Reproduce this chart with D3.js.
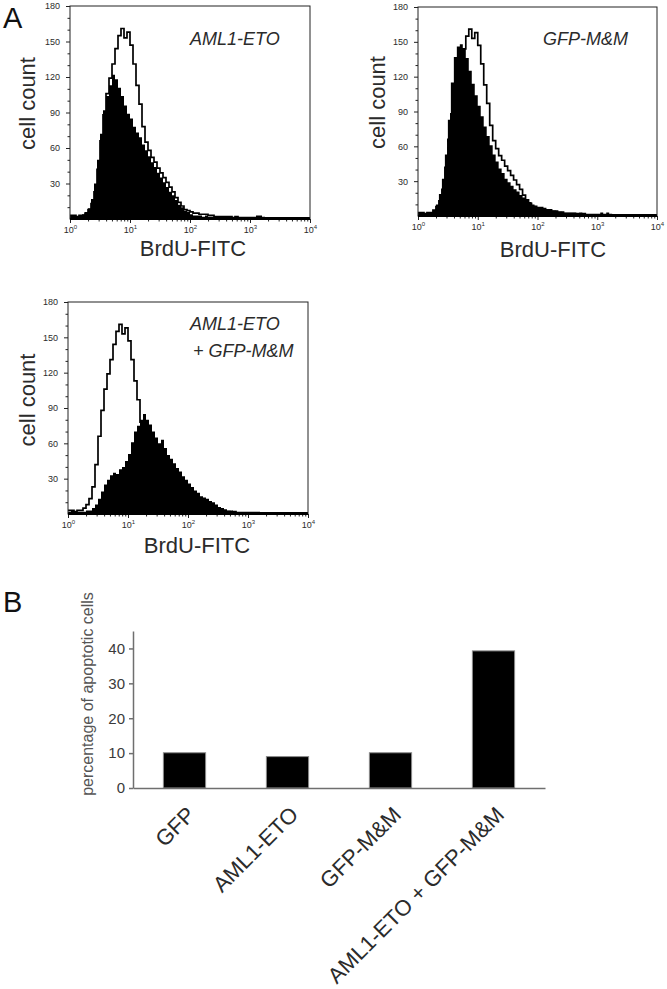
<!DOCTYPE html>
<html>
<head>
<meta charset="utf-8">
<title>BrdU-FITC histograms and apoptosis</title>
<script src="https://cdn.jsdelivr.net/npm/d3@7"></script>
<style>
  body { margin: 0; background: #fff; }
  text { font-family: "Liberation Sans", Arial, Helvetica, sans-serif; }
</style>
</head>
<body>
<div id="chart"></div>
<script>
// histograms: 80 channels, 0.05 decade each, from 10^0 to 10^4
var binStep = 0.05;

// open outline (control) - same in all three panels
var controlCounts = [3,3,2,3,3,5,8,13,23,42, 66,88,106,119,131,144,155,161,153,158,
  147,131,113,97,78,65,58,52,48,43, 39,35,31,27,23,18,14,11,8,7,
  6,5,5,4,4,4,3,3,2,2, 2,2,2,2,1,2,1,1,1,1,
  1,1,1,1,1,1,1,1,1,1, 1,1,1,1,1,1,1,1,1,1];

var aml1EtoCounts = [3,3,2,3,4,6,9,17,30,50, 72,92,104,113,122,118,111,104,96,89,
  85,78,73,69,63,58,53,48,44,39, 35,31,27,23,20,16,12,10,7,6,
  4,3,3,3,2,3,2,2,2,2, 2,2,2,2,2,2,2,2,2,2,
  2,2,3,3,2,1,1,1,1,1, 1,1,1,1,1,1,1,1,1,1];

var gfpMMCounts = [3,3,2,3,3,5,10,19,32,53, 83,115,137,146,148,144,136,125,114,104,
  95,86,77,69,61,53,47,41,37,32, 29,26,23,21,18,16,14,12,10,9,
  8,8,7,6,6,5,5,4,4,3, 3,3,3,2,3,2,2,2,2,2,
  2,3,2,3,2,1,1,1,1,1, 1,1,1,1,1,1,1,1,1,1];

var comboCounts = [2,3,2,2,2,2,3,3,5,8, 13,19,25,29,33,35,34,38,40,45,
  51,61,70,75,80,85,80,76,70,65, 60,63,56,50,47,43,39,36,32,29,
  26,23,20,18,15,14,13,11,10,8, 6,5,4,3,3,2,2,2,2,2,
  2,2,2,2,1,1,1,1,1,1, 1,1,1,1,1,1,1,1,1,1];

var countTicks = [30, 60, 90, 120, 150, 180];
var countMinorTicks = [10, 20, 40, 50, 70, 80, 100, 110, 130, 140, 160, 170];
var decadeTicks = [0, 1, 2, 3, 4];

// bar chart (B)
var barCategories = ["GFP", "AML1-ETO", "GFP-M&M", "AML1-ETO + GFP-M&M"];
var barValues = [10.1, 9.0, 10.1, 39.3];
var barTicks = [0, 10, 20, 30, 40];

var textColor = "#2b2b2b";

var svg = d3.select("#chart").append("svg")
    .attr("width", 667)
    .attr("height", 989)
    .style("background", "#fff");

function toPoints(counts) {
    var pts = counts.map(function(c, i) { return [Math.pow(10, i * binStep), c]; });
    pts.push([1e4, counts[counts.length - 1]]);
    return pts;
}

function drawHist(p) {
    var g = svg.append("g").attr("transform", "translate(" + p.left + "," + p.top + ")");

    var x = d3.scaleLog().domain([1, 1e4]).range([0, p.w]);
    var y = d3.scaleLinear().domain([0, 180]).range([p.h, 0]);

    var area = d3.area()
        .curve(d3.curveStepAfter)
        .x(function(d) { return x(d[0]); })
        .y0(p.h)
        .y1(function(d) { return y(d[1]); });
    var line = d3.line()
        .curve(d3.curveStepAfter)
        .x(function(d) { return x(d[0]); })
        .y(function(d) { return y(d[1]); });

    g.append("path").datum(toPoints(p.counts))
        .attr("d", area)
        .attr("fill", "#000");
    g.append("path").datum(toPoints(controlCounts))
        .attr("d", line)
        .attr("fill", "none")
        .attr("stroke", "#000")
        .attr("stroke-width", 1.7);

    // frame
    g.append("rect")
        .attr("width", p.w).attr("height", p.h)
        .attr("fill", "none").attr("stroke", "#222").attr("stroke-width", 1);

    // y axis
    var yMinor = g.append("g").call(d3.axisLeft(y).tickValues(countMinorTicks).tickSize(2.5).tickFormat(""));
    yMinor.select(".domain").remove();
    var yAx = g.append("g").call(d3.axisLeft(y).tickValues(countTicks).tickSize(4).tickPadding(6));
    yAx.select(".domain").remove();
    yAx.selectAll("text").attr("font-size", 9).attr("fill", textColor)
        .style("font-family", "'Liberation Sans', Arial, sans-serif");

    // x axis (log)
    var minor = [];
    decadeTicks.slice(0, -1).forEach(function(e) {
        for (var k = 2; k < 10; k++) minor.push(k * Math.pow(10, e));
    });
    var xMinor = g.append("g").attr("transform", "translate(0," + p.h + ")")
        .call(d3.axisBottom(x).tickValues(minor).tickSize(2.5).tickFormat(""));
    xMinor.select(".domain").remove();
    var xAx = g.append("g").attr("transform", "translate(0," + p.h + ")")
        .call(d3.axisBottom(x).tickValues(decadeTicks.map(function(e) { return Math.pow(10, e); }))
            .tickSize(4).tickFormat(""));
    xAx.select(".domain").remove();
    xAx.selectAll(".tick text").remove();
    xAx.selectAll(".tick").append("text")
        .attr("y", 14)
        .attr("text-anchor", "middle")
        .attr("font-size", 9)
        .attr("fill", textColor)
        .style("font-family", "'Liberation Sans', Arial, sans-serif")
        .text("10")
        .append("tspan")
        .attr("dy", -4)
        .attr("font-size", 6)
        .text(function(d) { return Math.round(Math.log10(d)); });

    g.selectAll(".tick line").attr("stroke", "#222");

    // thick baseline
    g.append("line")
        .attr("x1", 0).attr("x2", p.w)
        .attr("y1", p.h).attr("y2", p.h)
        .attr("stroke", "#000").attr("stroke-width", 2);

    // titles
    g.append("text")
        .attr("x", p.xLabel[0]).attr("y", p.h + p.xLabel[1])
        .attr("text-anchor", "middle")
        .attr("font-size", 22)
        .attr("fill", textColor)
        .text("BrdU-FITC");
    g.append("text")
        .attr("transform", "translate(" + p.yLabel[0] + "," + (p.h / 2 + p.yLabel[1]) + ") rotate(-90)")
        .attr("text-anchor", "middle")
        .attr("font-size", 22)
        .attr("fill", textColor)
        .text("cell count");

    p.names.forEach(function(n) {
        g.append("text")
            .attr("x", n[1]).attr("y", n[2])
            .attr("font-size", 18)
            .attr("font-style", "italic")
            .attr("fill", textColor)
            .text(n[0]);
    });
}

drawHist({ left: 70, top: 6, w: 240, h: 213, counts: aml1EtoCounts,
    xLabel: [123, 37], yLabel: [-35, -9],
    names: [["AML1-ETO", 120, 39]] });
drawHist({ left: 418, top: 7, w: 239, h: 209, counts: gfpMMCounts,
    xLabel: [135, 41], yLabel: [-33, -9],
    names: [["GFP-M&M", 125, 38]] });
drawHist({ left: 68, top: 302, w: 240, h: 212, counts: comboCounts,
    xLabel: [129, 39], yLabel: [-33, -8],
    names: [["AML1-ETO", 122, 28], ["+ GFP-M&M", 125, 55]] });

// panel letters
svg.append("text").attr("x", 3).attr("y", 28).attr("font-size", 29).attr("fill", "#111").text("A");
svg.append("text").attr("x", 3).attr("y", 612).attr("font-size", 29).attr("fill", "#111").text("B");

// ---- B: bar chart ----
var bx = d3.scaleBand()
    .domain(barCategories)
    .range([133, 545])
    .paddingInner(0.59)
    .paddingOuter(0.295);
var by = d3.scaleLinear().domain([0, 45]).range([788, 631]);

svg.append("g").selectAll("rect")
    .data(barValues)
    .enter().append("rect")
        .attr("x", function(d, i) { return bx(barCategories[i]); })
        .attr("y", function(d) { return by(d); })
        .attr("width", bx.bandwidth())
        .attr("height", function(d) { return by(0) - by(d); })
        .attr("fill", "#000")
        .attr("stroke", "#8a8a8a")
        .attr("stroke-width", 1);

var byAx = svg.append("g").attr("transform", "translate(133,0)")
    .call(d3.axisLeft(by).tickValues(barTicks).tickSize(4).tickSizeOuter(0).tickPadding(4));
byAx.selectAll("path, line").attr("stroke", "#6f6f6f").attr("stroke-width", 1.5);
byAx.selectAll("text").attr("font-size", 15).attr("fill", "#3a3a3a")
    .style("font-family", "'Liberation Sans', Arial, sans-serif");

var bxAx = svg.append("g").attr("transform", "translate(0,788)")
    .call(d3.axisBottom(bx).tickSize(0).tickSizeOuter(0));
bxAx.select(".domain").attr("stroke", "#6f6f6f").attr("stroke-width", 1.5);
bxAx.selectAll("text")
    .attr("y", 0).attr("dy", 0)
    .attr("text-anchor", "end")
    .attr("transform", "translate(12,28) rotate(-45)")
    .attr("font-size", 22)
    .attr("fill", "#2b2b2b")
    .style("font-family", "'Liberation Sans', Arial, sans-serif");

svg.append("text")
    .attr("transform", "translate(93,694) rotate(-90)")
    .attr("text-anchor", "middle")
    .attr("font-size", 16)
    .attr("fill", "#555")
    .text("percentage of apoptotic cells");
</script>
</body>
</html>
